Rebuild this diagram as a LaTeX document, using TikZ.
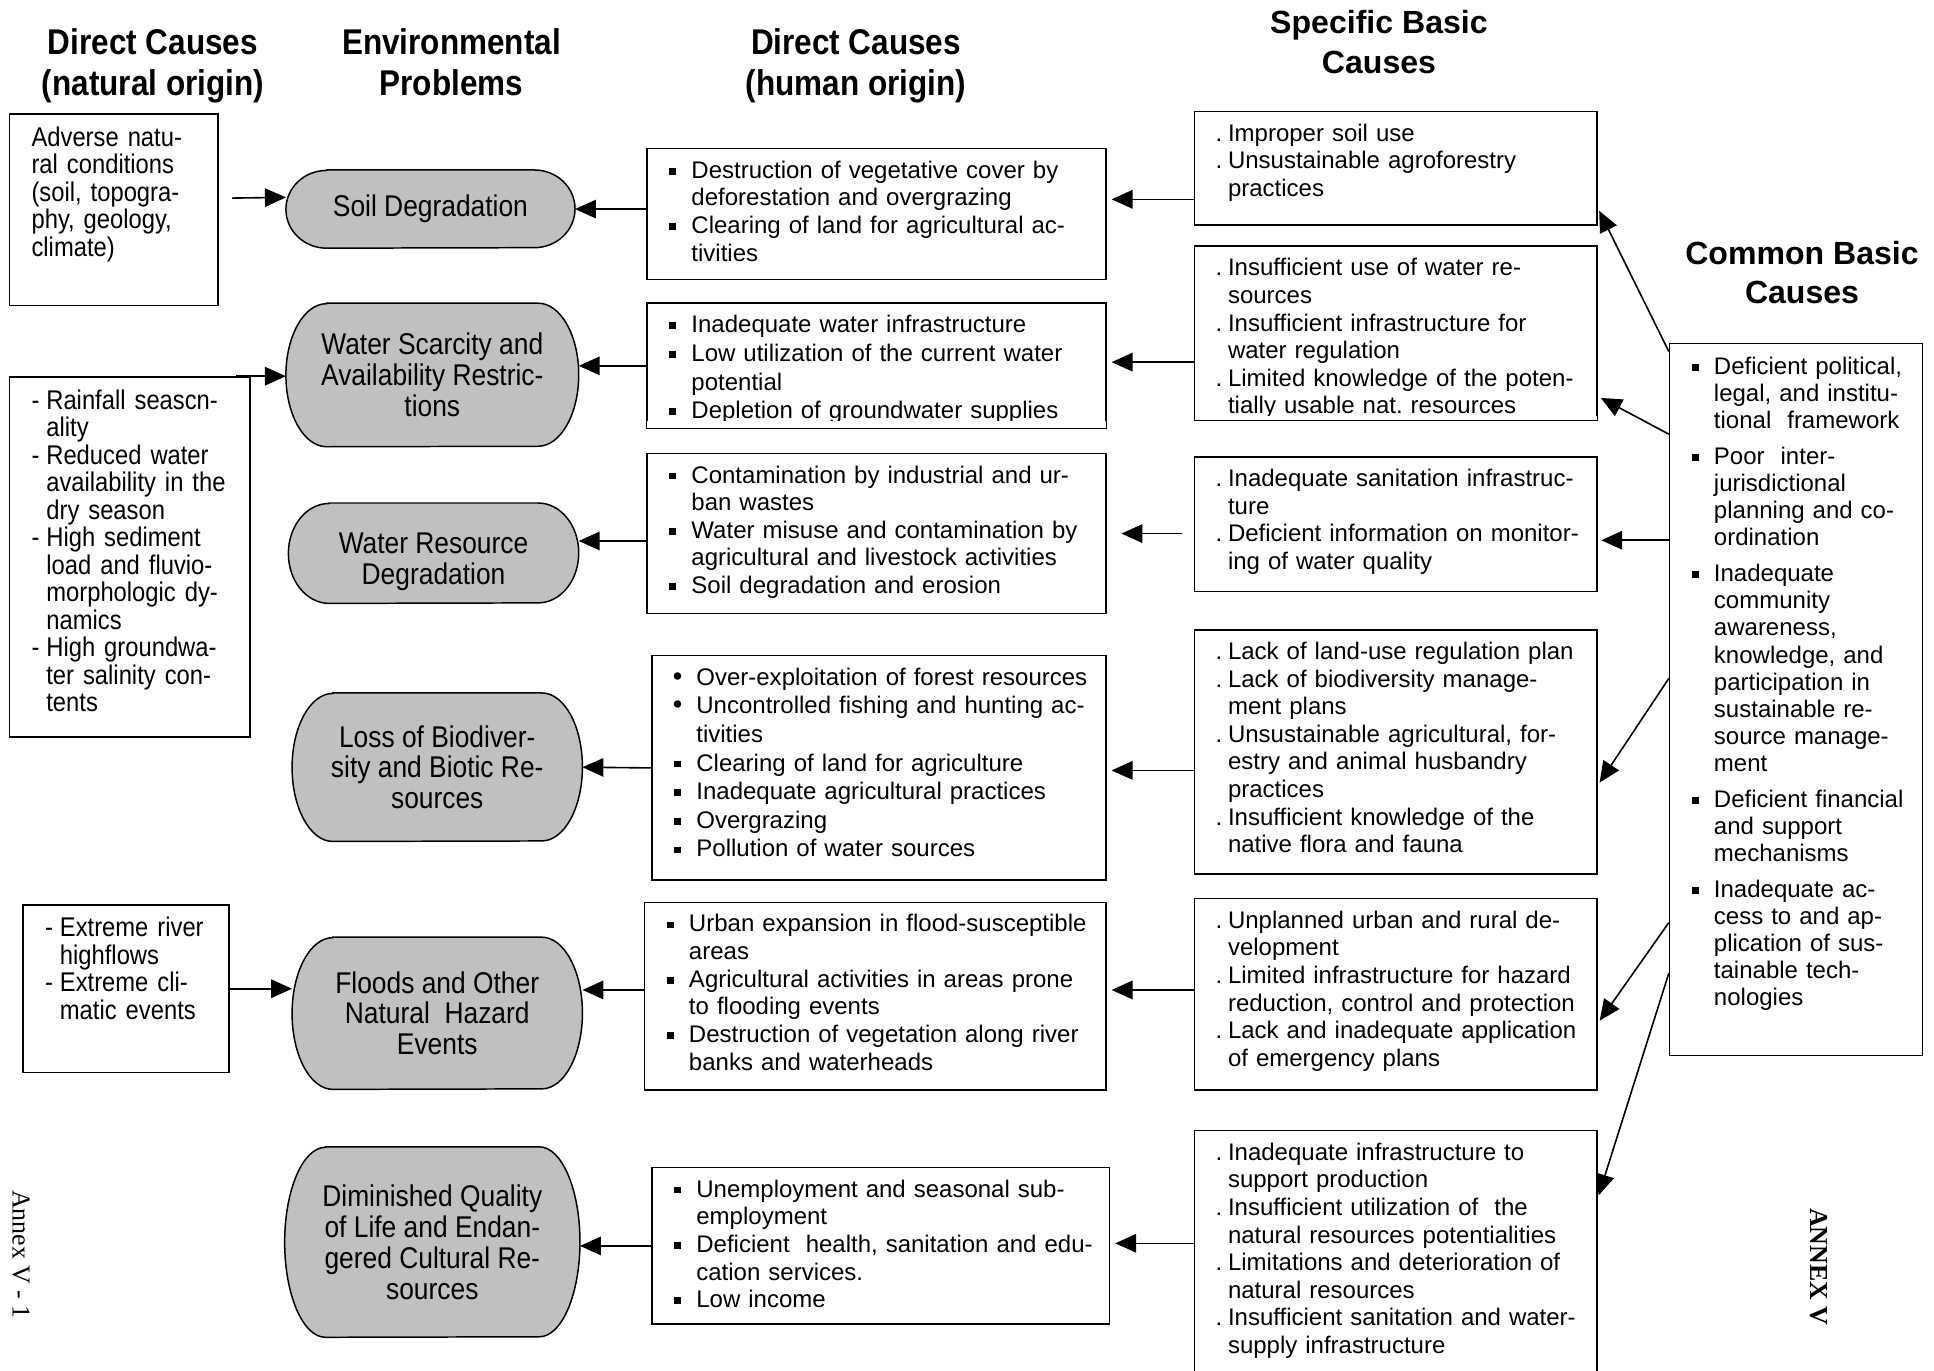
\documentclass[tikz,border=0pt]{standalone}
\usepackage{fontspec}
\setmainfont{Liberation Sans}
\newfontfamily\narrowfont[FakeStretch=0.88]{Liberation Sans}
\newfontfamily\annexfont{Liberation Serif}
\usetikzlibrary{arrows.meta,backgrounds}

\definecolor{probgray}{RGB}{192,192,192}

\newcommand{\sqbul}{\rule[3pt]{5.5pt}{5.5pt}}
\newcommand{\sqitem}[1]{\noindent\hangindent=36pt\hangafter=1\hbox to 36pt{\hskip18pt\sqbul\hfil}\ignorespaces#1\par}
\newcommand{\rditem}[1]{\noindent\hangindent=36pt\hangafter=1\hbox to 36pt{\hskip17pt{\fontsize{22}{22}\selectfont •}\hfil}\ignorespaces#1\par}
\newcommand{\dotitem}[1]{\noindent\hangindent=27pt\hangafter=1\hbox to 27pt{\hskip17pt.\hfil}\ignorespaces#1\par}
\newcommand{\dashitem}[1]{\noindent\hangindent=30pt\hangafter=1\hbox to 30pt{\hskip18pt-\hfil}\ignorespaces#1\par}
\newcommand{\citem}[1]{\sqitem{#1}\vspace{7pt}}

\begin{document}
\frenchspacing
\begin{tikzpicture}[x=1pt, y=-1pt,
    causebox/.style 2 args={draw, line width=1.2pt, anchor=north west, inner sep=0pt,
      text width=#1pt, text height=24pt, text depth=#2pt-24pt,
      font=\fontsize{19.46}{22.4}\selectfont},
    combox/.style 2 args={causebox={#1}{#2}, text height=25pt, text depth=#2pt-25pt,
      font=\fontsize{19.46}{22}\selectfont},
    natbox/.style 2 args={causebox={#1}{#2}, text height=26pt, text depth=#2pt-26pt,
      font=\narrowfont\fontsize{21.9}{22.3}\selectfont},
    problem/.style 2 args={minimum width=#1pt, minimum height=#2pt, inner sep=0pt,
      align=center, font=\narrowfont\fontsize{24.3}{25}\selectfont},
    stad/.style={draw, line width=1.2pt, fill=probgray},
    headl/.style={align=center, text height=54.2pt, text depth=6.1pt,
      font=\narrowfont\bfseries\fontsize{29}{33}\selectfont},
    headr/.style={align=center, font=\bfseries\fontsize{26}{32}\selectfont},
    conn/.style={line width=1.3pt, -{Triangle[length=17pt,width=15pt]}}]
\useasboundingbox (0,0) rectangle (1568,1111);

\node[headl] (hnat) at (124,53) {Direct Causes\\(natural origin)};
\node[headl] (henv) at (366,53) {Environmental\\Problems};
\node[headl] (hhum) at (694,53) {Direct Causes\\(human origin)};
\node[headr] (hspec) at (1118,34) {Specific Basic\\Causes};
\node[headr] (hcom) at (1461,221) {Common Basic\\Causes};

\node[natbox={169}{155}] (l1) at (7,92) {\leftskip=18pt Adverse natu-\newline ral conditions\newline (soil, topogra-\newline phy, geology,\newline climate)\par};
\node[natbox={195}{292}] (l2) at (7,305) {\dashitem{Rainfall seascn-\newline ality}\dashitem{Reduced water\newline availability in the\newline dry season}\dashitem{High sediment\newline load and fluvio-\newline morphologic dy-\newline namics}\dashitem{High groundwa-\newline ter salinity con-\newline tents}};
\node[natbox={167}{136}] (l3) at (18,733) {\dashitem{Extreme river\newline highflows}\dashitem{Extreme cli-\newline matic events}};

\node[problem={234}{63}] (e1) at (349,169.5) {Soil Degradation};
\node[problem={237}{116}] (e2) at (350.5,304) {Water Scarcity and\\Availability Restric-\\tions};
\node[problem={235}{81}] (e3) at (351.5,448.5) {\rule{0pt}{31pt}Water Resource\\Degradation};
\node[problem={235}{120}] (e4) at (354.5,622) {Loss of Biodiver-\\sity and Biotic Re-\\sources};
\node[problem={235}{123}] (e5) at (354.5,821.5) {Floods and Other\\Natural\ \ Hazard\\Events};
\node[problem={239}{154}] (e6) at (350.5,1007) {Diminished Quality\\of Life and Endan-\\gered Cultural Re-\\sources};

\begin{scope}[on background layer]
  \foreach \i/\ry in {1/31.5,2/58,3/40.5,4/60,5/61.5,6/77}
    \draw[stad] ([xshift=33pt]e\i.north west) -- ([xshift=-33pt]e\i.north east)
      arc[start angle=90, end angle=-90, x radius=33pt, y radius=\ry pt]
      -- ([xshift=33pt]e\i.south west)
      arc[start angle=270, end angle=90, x radius=33pt, y radius=\ry pt] -- cycle;
\end{scope}

\node[causebox={372}{106}] (m1) at (524,120) {\sqitem{Destruction of vegetative cover by\newline deforestation and overgrazing}\sqitem{Clearing of land for agricultural ac-\newline tivities}};
\node[causebox={372}{102}] (m2) at (524,245) {\baselineskip=23.3pt\sqitem{Inadequate water infrastructure}\sqitem{Low utilization of the current water\newline potential}\sqitem{Depletion of groundwater supplies}};
\node[causebox={372}{130}] (m3) at (524,367) {\sqitem{Contamination by industrial and ur-\newline ban wastes}\sqitem{Water misuse and contamination by\newline agricultural and livestock activities}\sqitem{Soil degradation and erosion}};
\node[causebox={368}{182}] (m4) at (528,531) {\baselineskip=23.2pt\rditem{Over-exploitation of forest resources}\rditem{Uncontrolled fishing and hunting ac-\newline tivities}\sqitem{Clearing of land for agriculture}\sqitem{Inadequate agricultural practices}\sqitem{Overgrazing}\sqitem{Pollution of water sources}};
\node[causebox={374}{152}] (m5) at (522,731) {\sqitem{Urban expansion in flood-susceptible\newline areas}\sqitem{Agricultural activities in areas prone\newline to flooding events}\sqitem{Destruction of vegetation along river\newline banks and waterheads}};
\node[causebox={371}{127}] (m6) at (528,946) {\sqitem{Unemployment and seasonal sub-\newline employment}\sqitem{Deficient\ \ health, sanitation and edu-\newline cation services.}\sqitem{Low income}};

\node[causebox={326}{92}] (s1) at (968,90) {\dotitem{Improper soil use}\dotitem{Unsustainable agroforestry\newline practices}};
\node[causebox={326}{141}] (s2) at (968,199) {\dotitem{Insufficient use of water re-\newline sources}\dotitem{Insufficient infrastructure for\newline water regulation}\dotitem{Limited knowledge of the poten-\newline tially usable nat. resources}};
\node[causebox={326}{109}] (s3) at (968,370) {\dotitem{Inadequate sanitation infrastruc-\newline ture}\dotitem{Deficient information on monitor-\newline ing of water quality}};
\node[causebox={326}{198}] (s4) at (968,510) {\dotitem{Lack of land-use regulation plan}\dotitem{Lack of biodiversity manage-\newline ment plans}\dotitem{Unsustainable agricultural, for-\newline estry and animal husbandry\newline practices}\dotitem{Insufficient knowledge of the\newline native flora and fauna}};
\node[causebox={326}{155}] (s5) at (968,728) {\dotitem{Unplanned urban and rural de-\newline velopment}\dotitem{Limited infrastructure for hazard\newline reduction, control and protection}\dotitem{Lack and inadequate application\newline of emergency plans}};
\node[causebox={326}{205}] (s6) at (968,916) {\dotitem{Inadequate infrastructure to\newline support production}\dotitem{Insufficient utilization of\ \ the\newline natural resources potentialities}\dotitem{Limitations and deterioration of\newline natural resources}\dotitem{Insufficient sanitation and water-\newline supply infrastructure}};

\node[combox={205}{577}] (c) at (1353,278) {\citem{Deficient political,\newline legal, and institu-\newline tional\ \ framework}\citem{Poor\ \ inter-\newline jurisdictional\newline planning and co-\newline ordination}\citem{Inadequate\newline community\newline awareness,\newline knowledge, and\newline participation in\newline sustainable re-\newline source manage-\newline ment}\citem{Deficient financial\newline and support\newline mechanisms}\citem{Inadequate ac-\newline cess to and ap-\newline plication of sus-\newline tainable tech-\newline nologies}};

\fill[white] ([shift={(0.8pt,0.8pt)}]m2.south west) rectangle ([shift={(-0.8pt,7pt)}]m2.south east);
\fill[white] ([shift={(0.8pt,0.8pt)}]s2.south west) rectangle ([shift={(-0.8pt,4pt)}]s2.south east);

\node[rotate=-90, font=\annexfont\fontsize{21}{24}\selectfont] (annexl) at (17,1017) {Annex V - 1};
\node[rotate=-90, font=\annexfont\bfseries\fontsize{21}{24}\selectfont] (annexr) at (1475,1027) {ANNEX V};

\draw[conn] ([xshift=11pt,yshift=9.5pt]l1.east) -- ([yshift=9.5pt]e1.west);
\draw[conn] ([xshift=-12pt]l2.north east) -- (l2.north east -| e2.west);
\draw[conn] (l3.east) -- (l3.east -| e5.west);

\draw[conn] (m1.west |- e1.east) -- (e1.east);
\draw[conn] (m2.west) -- (m2.west -| e2.east);
\draw[conn] ([yshift=-6pt]m3.west) -- ([yshift=-6pt]m3.west -| e3.east);
\draw[conn] (m4.west) -- (e4.east);
\draw[conn] ([yshift=5pt]m5.west) -- ([yshift=5pt]m5.west -| e5.east);
\draw[conn] (m6.west) -- (m6.west -| e6.east);

\draw[conn, shorten >=4pt] ([yshift=-25pt]s1.west) -- ([yshift=-25pt]s1.west -| m1.east);
\draw[conn, shorten >=4pt] ([yshift=-23.5pt]s2.west) -- ([yshift=-23.5pt]s2.west -| m2.east);
\draw[conn, shorten <=10pt, shorten >=12pt] ([yshift=-7.5pt]s3.west) -- ([yshift=-7.5pt]s3.west -| m3.east);
\draw[conn, shorten >=4pt] ([yshift=-15pt]s4.west) -- ([yshift=-15pt]s4.west -| m4.east);
\draw[conn, shorten >=4pt] ([yshift=3.5pt]s5.west) -- ([yshift=3.5pt]s5.west -| m5.east);
\draw[conn, shorten >=4pt] ([yshift=-92pt]s6.north west) -- ([yshift=-92pt]s6.north west -| m6.east);

\draw[conn, shorten >=3pt] ([yshift=-7pt]c.north west) -- ([yshift=15pt]s1.south east);
\draw[conn, shorten >=3pt] ([yshift=-74pt]c.north west) -- ([yshift=20pt]s2.south east);
\draw[conn, shorten >=3pt] ([yshift=-160pt]c.north west) -- ([yshift=-160pt]c.north west -| s3.east);
\draw[conn, shorten >=3pt] ([yshift=-272pt]c.north west) -- ([yshift=-127pt]s4.north east);
\draw[conn, shorten >=3pt] ([yshift=-470pt]c.north west) -- ([yshift=-102pt]s5.north east);
\draw[conn, shorten >=3pt] ([yshift=-511pt]c.north west) -- ([yshift=-56pt]s6.north east);
\end{tikzpicture}
\end{document}
